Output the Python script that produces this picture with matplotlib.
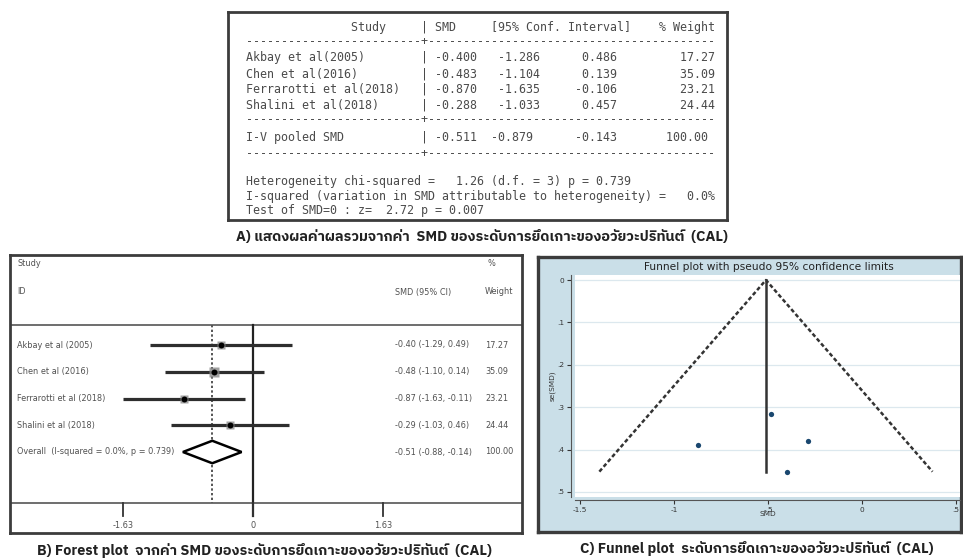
import matplotlib
matplotlib.use("Agg")
import matplotlib.pyplot as plt
from matplotlib import font_manager
from matplotlib.patches import Polygon
from matplotlib.ft2font import FT2Font

# ==================================================
#   DATA

studies = ["Akbay et al(2005)", "Chen et al(2016)", "Ferrarotti et al(2018)", "Shalini et al(2018)"]
forest_labels = ["Akbay et al (2005)", "Chen et al (2016)", "Ferrarotti et al (2018)", "Shalini et al (2018)"]
smd = [-0.400, -0.483, -0.870, -0.288]
ci_lo = [-1.286, -1.104, -1.635, -1.033]
ci_hi = [0.486, 0.139, -0.106, 0.457]
weights = [17.27, 35.09, 23.21, 24.44]
# estimate column as printed on the forest plot
forest_est_text = ["-0.40 (-1.29, 0.49)", "-0.48 (-1.10, 0.14)",
                   "-0.87 (-1.63, -0.11)", "-0.29 (-1.03, 0.46)"]

pooled_label = "I-V pooled SMD"
pooled = -0.511
pooled_lo = -0.879
pooled_hi = -0.143
pooled_w = 100.00

het_chi2 = 1.26
het_df = 3
het_p = 0.739
i_squared = 0.0
z_stat = 2.72
z_p = 0.007

forest_xticks = [-1.63, 0, 1.63]
forest_xticklabels = ["-1.63", "0", "1.63"]

# funnel plot: standard errors
se = [0.452, 0.317, 0.390, 0.380]
funnel_left = -1.397
funnel_right = 0.375
funnel_se_max = 0.452
funnel_xticks = [-1.5, -1, -0.5, 0, 0.5]
funnel_xticklabels = ["-1.5", "-1", "-.5", "0", ".5"]
funnel_yticks = [0, 0.1, 0.2, 0.3, 0.4, 0.5]
funnel_yticklabels = ["0", ".1", ".2", ".3", ".4", ".5"]

caption_a = "A) แสดงผลค่าผลรวมจากค่า  SMD ของระดับการยึดเกาะของอวัยวะปริทันต์  (CAL)"
caption_b = "B) Forest plot  จากค่า SMD ของระดับการยึดเกาะของอวัยวะปริทันต์  (CAL)"
caption_c = "C) Funnel plot  ระดับการยึดเกาะของอวัยวะปริทันต์  (CAL)"


# ==================================================
#   HELPERS

W, H = 963, 558


def find_thai_font():
    for f in font_manager.fontManager.ttflist:
        if "Thai" in f.name:
            return f.name
    for f in font_manager.fontManager.ttflist:
        try:
            if 0x0E01 in FT2Font(f.fname).get_charmap():
                return f.name
        except Exception:
            pass
    return None


def px_axes(fig, x0, y0, x1, y1, **kw):
    return fig.add_axes([x0 / W, 1 - y1 / H, (x1 - x0) / W, (y1 - y0) / H], **kw)


thai = find_thai_font()
cap_family = [thai, "DejaVu Sans"] if thai else ["DejaVu Sans"]
cap_size = 10.4

fig = plt.figure(figsize=(W / 100, H / 100), dpi=100)
fig.patch.set_facecolor("white")

# ==================================================
#   A) TABLE

tx0, ty0, tx1, ty1 = 228, 12, 727, 220
ax_t = px_axes(fig, tx0, ty0, tx1, ty1)
ax_t.set_xlim(tx0, tx1)
ax_t.set_ylim(ty1, ty0)
ax_t.set_xticks([])
ax_t.set_yticks([])
for sp in ax_t.spines.values():
    sp.set_linewidth(2.0)
    sp.set_color("#3c3c3c")

lines = []
lines.append((27, " " * 15 + "Study" + " " * 5 + "| SMD     [95% Conf. Interval]    % Weight"))
lines.append((42, "-" * 25 + "+" + "-" * 41))
row_y = [58, 73.5, 89, 105]
for y, name, m, lo, hi, w in zip(row_y, studies, smd, ci_lo, ci_hi, weights):
    lines.append((y, f"{name:<25}|{m:7.3f}{lo:9.3f}{hi:11.3f}{w:14.2f}"))
lines.append((120, "-" * 25 + "+" + "-" * 41))
lines.append((137, f"{pooled_label:<25}|{pooled:7.3f}{pooled_lo:8.3f}{pooled_hi:12.3f}{pooled_w:13.2f}"))
lines.append((153, "-" * 25 + "+" + "-" * 41))
lines.append((182, f"Heterogeneity chi-squared = {het_chi2:6.2f} (d.f. = {het_df}) p = {het_p:.3f}"))
lines.append((197, f"I-squared (variation in SMD attributable to heterogeneity) = {i_squared:5.1f}%"))
lines.append((211, f"Test of SMD=0 : z={z_stat:6.2f} p = {z_p:.3f}"))
for y, s in lines:
    ax_t.text(246, y, s, family="DejaVu Sans Mono", fontsize=8.4, color="#4a4a4a",
              va="center", ha="left")

fig.text(482 / W, 1 - 237 / H, caption_a, family=cap_family, fontsize=cap_size,
         fontweight="bold", color="#222222", ha="center", va="center")

# ==================================================
#   B) FOREST PLOT

zero_px, ppu = 253, 79.75
row0_px, row_step = 345, 26.75
fx0, fy0, fx1, fy1 = 10, 255, 522, 533


def fx(px):
    return (px - zero_px) / ppu


def fy(px):
    return (px - row0_px) / row_step


ax_f = px_axes(fig, fx0, fy0, fx1, fy1)
ax_f.set_xlim(fx(fx0), fx(fx1))
ax_f.set_ylim(fy(fy1), fy(fy0))
ax_f.set_xticks([])
ax_f.set_yticks([])
for sp in ax_f.spines.values():
    sp.set_linewidth(2.0)
    sp.set_color("#3c3c3c")

sep_y, axis_y = fy(325), fy(503)
ax_f.axhline(sep_y, color="#555555", lw=1.2)
ax_f.axhline(axis_y, color="#555555", lw=1.2)

txt_kw = dict(fontsize=5.9, color="#505050", va="center")
ax_f.text(fx(17), fy(264), "Study", ha="left", **txt_kw)
ax_f.text(fx(17), fy(292), "ID", ha="left", **txt_kw)
ax_f.text(fx(395), fy(292), "SMD (95% CI)", ha="left", **txt_kw)
ax_f.text(fx(487), fy(264), "%", ha="left", **txt_kw)
ax_f.text(fx(485), fy(292), "Weight", ha="left", **txt_kw)

# reference lines
ax_f.plot([0, 0], [sep_y, fy(516)], color="#222222", lw=1.6)
ax_f.plot([pooled, pooled], [sep_y, axis_y], color="#555555", lw=1.4, ls=(0, (1.2, 1.2)))

for i, (lab, m, lo, hi, w, est) in enumerate(zip(forest_labels, smd, ci_lo, ci_hi, weights,
                                                 forest_est_text)):
    ax_f.plot([lo, hi], [i, i], color="#2e2e2e", lw=2.3, solid_capstyle="butt")
    ax_f.plot(m, i, marker="s", ms=1.25 * w ** 0.5, color="#8a8a8a", alpha=0.8, mec="none")
    ax_f.plot(m, i, marker="o", ms=4.3, color="black", mec="none")
    ax_f.text(fx(17), i, lab, ha="left", **txt_kw)
    ax_f.text(fx(395), i, est, ha="left", **txt_kw)
    ax_f.text(fx(485), i, f"{w:.2f}", ha="left", **txt_kw)

iy = len(smd)
h = 0.42
diamond = Polygon([[pooled_lo, iy], [pooled, iy - h], [pooled_hi, iy], [pooled, iy + h]],
                  closed=True, facecolor="white", edgecolor="black", lw=1.8, zorder=3)
ax_f.add_patch(diamond)
ax_f.text(fx(17), iy, f"Overall  (I-squared = {i_squared:.1f}%, p = {het_p:.3f})", ha="left", **txt_kw)
ax_f.text(fx(395), iy, f"{pooled:.2f} ({pooled_lo:.2f}, {pooled_hi:.2f})", ha="left", **txt_kw)
ax_f.text(fx(485), iy, f"{pooled_w:.2f}", ha="left", **txt_kw)

for t, tl in zip(forest_xticks, forest_xticklabels):
    ax_f.plot([t, t], [axis_y, fy(516)], color="#333333", lw=1.3)
    ax_f.text(t, fy(525), tl, ha="center", **txt_kw)

fig.text(264 / W, 1 - 551 / H, caption_b, family=cap_family, fontsize=cap_size,
         fontweight="bold", color="#222222", ha="center", va="center")

# ==================================================
#   C) FUNNEL PLOT

bg = "#cadfe8"
gx0, gy0, gx1, gy1 = 538, 257, 961, 532
ax_bg = px_axes(fig, gx0, gy0, gx1, gy1)
ax_bg.set_facecolor(bg)
ax_bg.set_xticks([])
ax_bg.set_yticks([])
for sp in ax_bg.spines.values():
    sp.set_linewidth(2.4)
    sp.set_color("#3c3c3c")
ax_bg.text(0.545, 1 - (267 - gy0) / (gy1 - gy0), "Funnel plot with pseudo 95% confidence limits",
           transform=ax_bg.transAxes, ha="center", va="center", fontsize=7.7, color="#222222")

x0_px, x_ppu = 862, 188
y0_px, y_ppu = 280, 424
px0, py0, px1, py1 = 575, 275, 960, 497
ax_p = px_axes(fig, px0, py0, px1, py1)
ax_p.set_facecolor("white")
ax_p.set_xlim((px0 - x0_px) / x_ppu, (px1 - x0_px) / x_ppu)
ax_p.set_ylim((py1 - y0_px) / y_ppu, (py0 - y0_px) / y_ppu)
for t in funnel_yticks:
    ax_p.axhline(t, color="#dce8ee", lw=0.9, zorder=0)
for side in ["top", "right"]:
    ax_p.spines[side].set_visible(False)
for side in ["left", "bottom"]:
    ax_p.spines[side].set_color("#555555")
    ax_p.spines[side].set_linewidth(0.8)
ax_p.spines["left"].set_position(("outward", 3))
ax_p.spines["bottom"].set_position(("outward", 2))
ax_p.set_xticks(funnel_xticks)
ax_p.set_xticklabels(funnel_xticklabels)
ax_p.set_yticks(funnel_yticks)
ax_p.set_yticklabels(funnel_yticklabels)
ax_p.tick_params(axis="both", labelsize=5.3, colors="#333333", length=3, width=0.8, pad=2)
ax_p.set_xlabel("SMD", fontsize=5.3, color="#333333", labelpad=-1)
ax_p.set_ylabel("se(SMD)", fontsize=5.3, color="#333333", labelpad=1)

ax_p.plot([funnel_left, pooled, funnel_right], [funnel_se_max, 0, funnel_se_max],
          color="#333333", lw=1.8, ls=(0, (1.6, 1.0)))
ax_p.plot([pooled, pooled], [0, funnel_se_max], color="#333333", lw=1.8)
ax_p.plot(smd, se, "o", ms=3.8, color="#1a476f", mec="none", zorder=4)

fig.text(757 / W, 1 - 549 / H, caption_c, family=cap_family, fontsize=cap_size,
         fontweight="bold", color="#222222", ha="center", va="center")

plt.savefig("out.png", dpi=100)
